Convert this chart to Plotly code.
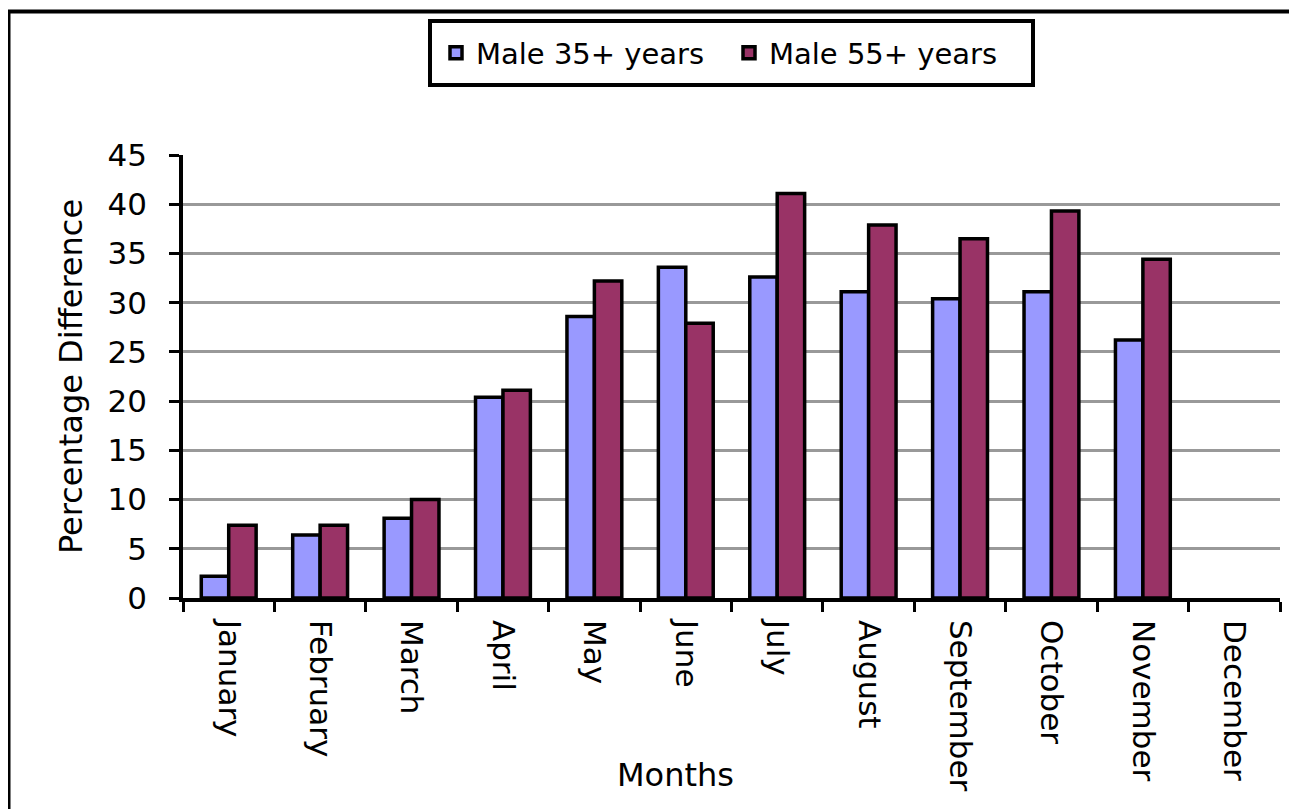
import plotly.graph_objects as go

months = ["January", "February", "March", "April", "May", "June", "July",
          "August", "September", "October", "November", "December"]
male_35 = [2.2, 6.4, 8.1, 20.4, 28.6, 33.6, 32.6, 31.1, 30.4, 31.1, 26.2, None]
male_55 = [7.4, 7.4, 10.0, 21.1, 32.2, 27.9, 41.1, 37.9, 36.5, 39.3, 34.4, None]
series_names = ["Male 35+ years", "Male 55+ years"]
y_ticks = list(range(0, 50, 5))

# page has an 8px body margin; work in page pixel coordinates
OFF = 8
W, H = 1297 - OFF, 809 - OFF
PL, PR, PT, PB = 183, 1280, 155, 598   # plot area in page px
L, R, T = PL - OFF, W - (PR - OFF), PT - OFF
B = H - (PB - OFF)
pw, ph = PR - PL, PB - PT

def px_x(x):
    return (x - PL) / pw

def px_y(y):
    return (PB - y) / ph

FONT = "DejaVu Sans"

fig = go.Figure()
fig.add_trace(go.Bar(x=months, y=male_35, name=series_names[0],
                     marker=dict(color="#9999FF", line=dict(color="black", width=3.5))))
fig.add_trace(go.Bar(x=months, y=male_55, name=series_names[1],
                     marker=dict(color="#993366", line=dict(color="black", width=3.5))))

fig.update_layout(
    width=W, height=H,
    margin=dict(l=L, r=R, t=T, b=B),
    paper_bgcolor="white", plot_bgcolor="white",
    barmode="group", bargap=0.4, bargroupgap=0,
    font=dict(family=FONT, color="black"),
    legend=dict(orientation="h", x=px_x(436), y=px_y(53), xanchor="left", yanchor="middle",
                borderwidth=0, bgcolor="rgba(0,0,0,0)",
                font=dict(size=29, family=FONT), itemwidth=30,
                entrywidth=248),
    xaxis=dict(type="category", tickangle=90, tickson="boundaries",
               ticks="outside", ticklen=10, tickwidth=3, tickcolor="black",
               showline=True, linecolor="black", linewidth=3.5,
               showgrid=False, tickfont=dict(size=31, family=FONT),
               ticklabelstandoff=12),
    yaxis=dict(range=[0, 45], tickvals=y_ticks, ticks="outside", ticklen=10,
               tickwidth=3, tickcolor="black", showline=True, linecolor="black",
               linewidth=3.5, showgrid=True, gridcolor="#999999", gridwidth=3,
               zeroline=False, tickfont=dict(size=31, family=FONT),
               ticklabelstandoff=16,
               title=dict(text="Percentage Difference", font=dict(size=32, family=FONT),
                          standoff=16)),
    showlegend=True,
)

fig.add_annotation(text="Months", xref="paper", yref="paper",
                   x=px_x(675), y=px_y(775), xanchor="center", yanchor="middle",
                   showarrow=False, font=dict(size=32, family=FONT))

# legend frame
fig.add_shape(type="rect", xref="paper", yref="paper",
              x0=px_x(430), x1=px_x(1033), y0=px_y(85), y1=px_y(21),
              line=dict(color="black", width=4), fillcolor="rgba(0,0,0,0)", layer="below")
# outer chart frame
fig.add_shape(type="rect", xref="paper", yref="paper",
              x0=px_x(8.5), x1=px_x(1400), y0=px_y(900), y1=px_y(11.5),
              line=dict(color="black", width=4), fillcolor="rgba(0,0,0,0)", layer="above")

fig.write_html("out.html")
